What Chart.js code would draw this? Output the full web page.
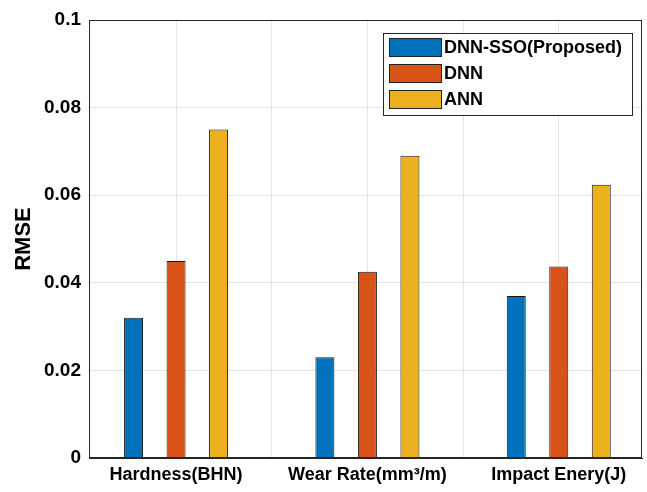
<!DOCTYPE html>
<html>
<head>
<meta charset="utf-8">
<script src="https://cdn.jsdelivr.net/npm/chart.js@4.4.1/dist/chart.umd.min.js"></script>
<style>
  body { margin: 0; background: #fff; }
  #wrap { width: 647px; height: 492px; }
</style>
</head>
<body>
<div id="wrap"><canvas id="rmseChart" width="647" height="492"></canvas></div>
<script>
const categories = ["Hardness(BHN)", "Wear Rate(mm³/m)", "Impact Enery(J)"];
const seriesNames = ["DNN-SSO(Proposed)", "DNN", "ANN"];
const dnnSso = [0.032, 0.023, 0.037];
const dnn = [0.045, 0.0425, 0.0437];
const ann = [0.075, 0.069, 0.0624];
const yTicks = [0, 0.02, 0.04, 0.06, 0.08, 0.1];
const yTickLabels = ["0", "0.02", "0.04", "0.06", "0.08", "0.1"];

const colors = ["#0072BD", "#D95319", "#EDB120"];
const font = "'Liberation Sans', Arial, sans-serif";

const toPoints = vals => vals.map((v, i) => ({ x: i + 1, y: v }));

// box around plot + legend inside the axes, MATLAB style
const matlabBox = {
  id: "matlabBox",
  afterDraw(chart) {
    const { ctx, chartArea: a } = chart;
    ctx.save();
    ctx.strokeStyle = "#262626";
    ctx.lineWidth = 1;
    ctx.strokeRect(a.left + 0.5, a.top + 0.5, a.right - a.left - 1, a.bottom - a.top - 1);

    const lx = 383, ly = 33, lw = 249, lh = 82;
    ctx.fillStyle = "#fff";
    ctx.fillRect(lx, ly, lw, lh);
    ctx.strokeStyle = "#262626";
    ctx.strokeRect(lx + 0.5, ly + 0.5, lw, lh);
    ctx.font = "bold 18px " + font;
    ctx.textBaseline = "middle";
    chart.data.datasets.forEach((ds, i) => {
      const cy = ly + 14 + i * 26;
      ctx.fillStyle = ds.backgroundColor;
      ctx.fillRect(lx + 6, cy - 9, 52, 18);
      ctx.strokeStyle = "#222";
      ctx.strokeRect(lx + 6.5, cy - 8.5, 52, 18);
      ctx.fillStyle = "#000";
      ctx.fillText(ds.label, lx + 61, cy + 1);
    });
    ctx.restore();
  }
};

new Chart(document.getElementById("rmseChart"), {
  type: "bar",
  data: {
    datasets: [dnnSso, dnn, ann].map((vals, i) => ({
      label: seriesNames[i],
      data: toPoints(vals),
      backgroundColor: colors[i],
      borderColor: "#1a1a1a",
      borderWidth: 1,
      // ruler spacing is the half-unit grid step, so this spans 2/3 of a category
      categoryPercentage: 1.333,
      barPercentage: 0.447
    }))
  },
  options: {
    responsive: false,
    animation: false,
    layout: { padding: { top: 20, right: 5, left: 0, bottom: 0 } },
    plugins: { legend: { display: false }, tooltip: { enabled: false } },
    scales: {
      x: {
        type: "linear",
        offset: false,
        min: 0.545,
        max: 3.435,
        afterBuildTicks(scale) {
          scale.ticks = [1, 1.5, 2, 2.5, 3].map(v => ({ value: v }));
        },
        afterFit(scale) { scale.height = 34; },
        grid: { color: "#e3e3e3", drawTicks: false, offset: false },
        border: { color: "#262626" },
        ticks: {
          padding: 6,
          color: "#000",
          maxRotation: 0,
          autoSkip: false,
          font: { family: font, size: 18, weight: "bold" },
          callback: v => Number.isInteger(v) ? categories[v - 1] : ""
        }
      },
      y: {
        min: 0,
        max: 0.1,
        afterBuildTicks(scale) {
          scale.ticks = yTicks.map(v => ({ value: v }));
        },
        afterFit(scale) { scale.width = 89; },
        grid: { color: "#e3e3e3", drawTicks: false },
        border: { color: "#262626" },
        title: {
          display: true,
          text: "RMSE",
          color: "#000",
          font: { family: font, size: 22, weight: "bold" },
          padding: { top: 11, bottom: 0 }
        },
        ticks: {
          padding: 8,
          color: "#000",
          font: { family: font, size: 19, weight: "bold" },
          callback: (v, i) => yTickLabels[i]
        }
      }
    }
  },
  plugins: [matlabBox]
});
</script>
</body>
</html>
